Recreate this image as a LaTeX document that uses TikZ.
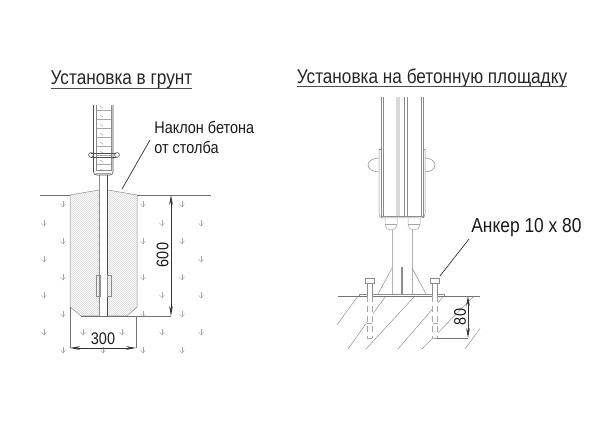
\documentclass[tikz,border=0pt]{standalone}
\usepackage{fontspec}
\setmainfont[FakeStretch=0.86]{Liberation Sans}
\usetikzlibrary{arrows.meta}
\usetikzlibrary{positioning}

\tikzset{
    part/.style={draw=black!70, line width=0.3pt},
    thin part/.style={draw=black!45, line width=0.25pt},
    ground/.style={draw=black!55, line width=0.3pt},
    hatch/.style={draw=black!25, line width=0.15pt},
    dim/.style={draw=black!55, line width=0.3pt},
    dim arrow/.style={draw=black!80, line width=0.3pt, {Stealth[length=5pt,width=1.8pt]}-{Stealth[length=5pt,width=1.8pt]}},
    leader/.style={draw=black!80, line width=0.35pt},
    soil/.style={draw=black!35, line width=0.2pt},
    title/.style={font=\fontsize{10}{12}\selectfont, inner sep=0pt, text=black!85},
    caption/.style={font=\fontsize{8.4}{11}\selectfont, inner sep=0pt, anchor=west, text=black!90},
    size/.style={font=\fontsize{8.4}{11}\selectfont, inner sep=0pt, text=black!90},
}
\newcommand{\soilmark}[2]{
    \draw[soil] (#1,#2-3) -- (#1,#2+3);
    \draw[soil] (#1-2.5,#2) -- (#1,#2+3) -- (#1+2.5,#2);
}

\begin{document}
\begin{tikzpicture}[x=0.5pt,y=-0.5pt]
\useasboundingbox (0,0) rectangle (600,431);

  % left: post in the ground
  \begin{scope}
    \node[title] (leftTitle) at (121.5,80) {Установка в грунт};
    \draw[draw=black!70, line width=0.35pt] (51,88) -- (192,88);

    % concrete
    \begin{scope}
      \clip (70,195) -- (99,190) -- (108,190) -- (137,195) -- (137,307) -- (127,316) -- (81,316) -- (70,307) -- cycle;
      \foreach \i in {0,2,...,260} {
        \draw[hatch] (60+\i,320) -- (60+\i-135,185);
      }
    \end{scope}
    \draw[thin part] (70,195) -- (70,307) -- (81,316) -- (127,316) -- (137,307) -- (137,195);
    \draw[thin part] (70,195) -- (99,190) (108,190) -- (137,195);
    \draw[ground] (40,195) -- (70,195) (137,195) -- (211,195);

    % soil marks
    \foreach \sx in {63,143,182} {
      \foreach \sy in {204,241,277,314,350} {\soilmark{\sx}{\sy}}
    }
    \foreach \sx in {44,201} {
      \foreach \sy in {223,259,295,332} {\soilmark{\sx}{\sy}}
    }
    \foreach \sy in {223,295,332} {\soilmark{162}{\sy}}
    \soilmark{83}{332}
    \soilmark{122}{332}
    \soilmark{103}{350}

    % pipe
    \fill[white] (99,175) rectangle (108,316);
    \draw[thin part] (99,175) -- (99,316);
    \draw[part, line width=0.5pt] (107.5,175) -- (107.5,316);
    \draw[part] (99,316) -- (108,316);
    \draw[thin part] (96,275) rectangle (100,296);
    \draw[thin part] (107,275) rectangle (111,296);

    % panel
    \foreach \py in {110,119,...,173} {
      \draw[thin part, draw=black!35] (96,\py) -- (111,\py);
      \draw[thin part, draw=black!35] (100,\py-4) -- (103,\py-2);
    }
    \draw[part] (93.5,105) -- (93.5,172) to[out=-90,in=180] (97,175) -- (110,175) to[out=0,in=-90] (113,172) -- (113,105);
    \draw[thin part] (96,105) -- (96,170) -- (111,170) -- (111,105);
    \draw[part] (91,153) -- (116,153) (91,157) -- (116,157);
    \draw[part] (91,155) circle[radius=1.2pt];
    \draw[part] (117,155) circle[radius=1.2pt];

    % dimensions
    \coordinate (depthTop) at (171,195);
    \coordinate (depthEnd) at (171,316);
    \coordinate (footCorner) at (81,316);
    \coordinate (wideLeftTop) at (70,307);
    \coordinate (wideLeft) at (70,348);
    \coordinate (wideRightTop) at (136,316);
    \coordinate (wideRight) at (136,348);
    \draw[dim] (footCorner) -- (depthEnd);
    \draw[dim] (wideLeftTop) -- (wideLeft);
    \draw[dim] (wideRightTop) -- (wideRight);
    \draw[dim arrow] (depthTop) -- (depthEnd);
    \draw[dim arrow] (wideLeft) -- (wideRight);
    \node[size] (depthText) at (162.5,255) [rotate=90] {600};
    \node[size] (wideText) at (103,339) {300};

    % slope note
    \node[caption] (slopeA) at (154,127) {Наклон бетона};
    \node[caption] (slopeB) at (154,147) {от столба};
    \coordinate (slopeFoot) at (122,189);
    \coordinate (slopeTop) at (150,140);
    \draw[leader] (slopeFoot) -- (slopeTop);
  \end{scope}

  % right: post on a concrete pad
  \begin{scope}
    \node[title] (rightTitle) at (432,78) {Установка на бетонную площадку};
    \draw[draw=black!70, line width=0.35pt] (297,86) -- (567,86);

    % post
    \draw[thin part] (381,97) -- (381,218) (383,97) -- (383,216);
    \draw[thin part] (423,97) -- (423,218) (421,97) -- (421,216);
    \fill[black!15] (396,97) rectangle (400,216);
    \draw[thin part] (404,97) -- (404,216) (407,97) -- (407,216);
    \draw[thin part] (379,149) -- (379,214) to[out=-90,in=180] (382,218) -- (422,218) to[out=0,in=-90] (425,214) -- (425,149);
    \draw[thin part] (379,149) -- (381,149) (423,149) -- (425,149);
    \draw[thin part] (381,216) -- (423,216);
    \draw[thin part] (379,158) arc[start angle=90,end angle=270,x radius=5.5pt,y radius=3.5pt];
    \draw[thin part] (425,158) arc[start angle=90,end angle=-90,x radius=5pt,y radius=3.5pt];

    % nuts and rods
    \foreach \nx in {391,414} {
      \draw[thin part, draw=black!35] (\nx-6,218) -- (\nx-6,225) to[out=-90,in=180] (\nx,230) to[out=0,in=-90] (\nx+6,225) -- (\nx+6,218);
      \draw[thin part, draw=black!35] (\nx-6,224) -- (\nx+6,224);
    }
    \draw[draw=black!30, line width=0.5pt] (392,230) -- (392,294);
    \draw[draw=black!30, line width=0.5pt] (412,230) -- (412,294);

    % base plate
    \draw[thin part] (378,294) -- (392,268);
    \draw[thin part] (426,294) -- (412,268);
    \draw[thin part, draw=black!45, line width=0.7pt] (402,267) -- (402,294);
    \draw[thin part] (359,294) rectangle (444,296);

    % ground
    \draw[ground] (338,296) -- (480,296);
    \begin{scope}
      \clip (335,296) rectangle (480,350);
      \draw[hatch, line width=0.2pt, draw=black!50] (358,296) -- (337,325);
      \draw[hatch, line width=0.2pt, draw=black!50] (385,297) -- (348,349);
      \draw[hatch, line width=0.2pt, draw=black!50] (414,297) -- (366,349);
      \draw[hatch, line width=0.2pt, draw=black!50] (443,297) -- (398,349);
      \draw[hatch, line width=0.2pt, draw=black!50] (474,296) -- (422,349);
      \draw[hatch, line width=0.2pt, draw=black!50] (490,315) -- (465,349);
    \end{scope}

    % anchors
    \foreach \ax in {369.5,435} {
      \fill[white] (\ax-3,283) rectangle (\ax+3,338);
      \draw[thin part] (\ax-4.5,278) rectangle (\ax+4.5,283);
      \draw[thin part] (\ax-2.5,283) -- (\ax-2.5,296) (\ax+2.5,283) -- (\ax+2.5,296);
      \draw[thin part, draw=black!35, densely dashed] (\ax-2.5,296) -- (\ax-2.5,338) (\ax+2.5,296) -- (\ax+2.5,338);
      \draw[thin part, draw=black!35] (\ax-2.5,338) -- (\ax+2.5,338) (\ax-2.5,323) -- (\ax+2.5,323);
    }

    % dimension
    \coordinate (anchorFoot) at (437,338);
    \coordinate (padTop) at (468,296);
    \coordinate (padEnd) at (468,338);
    \draw[dim] (anchorFoot) -- (padEnd);
    \draw[dim arrow] (padTop) -- (padEnd);
    \node[size] (padText) at (460,317) [rotate=90] {80};

    % anchor note
    \node[caption, font=\fontsize{10.1}{12}\selectfont] (anchorText) at (471,228) {Анкер 10 x 80};
    \coordinate (anchorHead) at (440,276);
    \coordinate (anchorTop) at (469,239);
    \draw[leader] (anchorHead) -- (anchorTop);
  \end{scope}

\end{tikzpicture}
\end{document}
